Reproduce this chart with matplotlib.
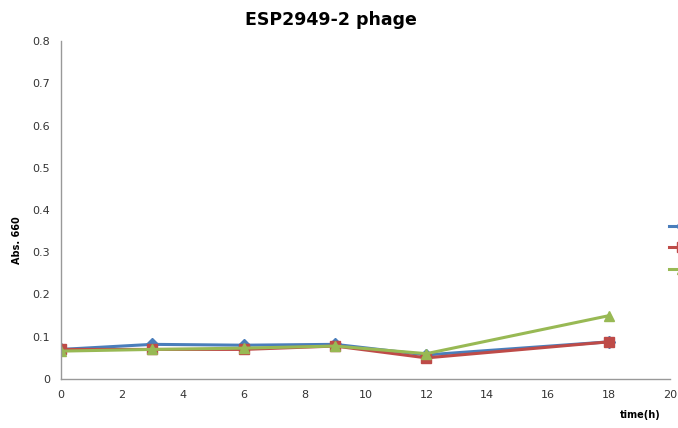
import matplotlib
matplotlib.use("Agg")
import matplotlib.pyplot as plt

# sampling times (h) and absorbance at 660 nm for the three cultures
time_h = [0, 3, 6, 9, 12, 18]
abs_blue = [0.070, 0.082, 0.080, 0.082, 0.057, 0.088]
abs_red = [0.070, 0.070, 0.070, 0.078, 0.050, 0.088]
abs_green = [0.066, 0.070, 0.073, 0.078, 0.060, 0.150]
series_names = ["control", "phage 1", "phage 2"]

fig = plt.figure(figsize=(6.78, 4.28), dpi=100)
ax = fig.add_axes([61 / 678, 49 / 428, 609 / 678, 338 / 428])

ax.plot(time_h, abs_blue, color="#4A7EBB", lw=2.2, marker="D", ms=6, label=series_names[0])
ax.plot(time_h, abs_red, color="#BE4B48", lw=2.2, marker="s", ms=7, label=series_names[1])
ax.plot(time_h, abs_green, color="#98B954", lw=2.2, marker="^", ms=7, label=series_names[2])

ax.set_xlim(0, 20)
ax.set_ylim(0, 0.8)
ax.set_xticks(range(0, 21, 2))
ax.set_yticks([0, 0.1, 0.2, 0.3, 0.4, 0.5, 0.6, 0.7, 0.8])
ax.set_yticklabels(["0", "0.1", "0.2", "0.3", "0.4", "0.5", "0.6", "0.7", "0.8"])
ax.tick_params(length=0, labelsize=8, colors="#333333", pad=8)

for side in ("top", "right"):
    ax.spines[side].set_visible(False)
for side in ("left", "bottom"):
    ax.spines[side].set_color("#999999")
    ax.spines[side].set_linewidth(1.0)

fig.text(331 / 678, 1 - 20 / 428, "ESP2949-2 phage", ha="center", va="center",
         fontsize=12.5, fontweight="bold")
fig.text(17 / 678, 1 - 240 / 428, "Abs. 660", rotation=90, ha="center", va="center",
         fontsize=7, fontweight="bold")
fig.text(640 / 678, 1 - 415 / 428, "time(h)", ha="center", va="center",
         fontsize=7, fontweight="bold")

# legend sits past the right edge of the figure, only the line stubs show
fig.legend(loc="upper left", bbox_to_anchor=(656 / 678, 1 - 207 / 428),
           frameon=False, fontsize=10, labelspacing=0.55, handlelength=2.0,
           handletextpad=2.0)

fig.savefig("out.png", dpi=100)
